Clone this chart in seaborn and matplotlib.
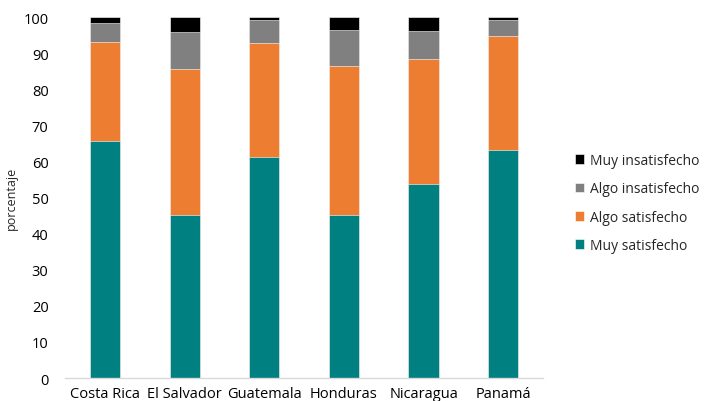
import numpy as np
import pandas as pd
import seaborn as sns
import matplotlib.pyplot as plt

paises = ['Costa Rica', 'El Salvador', 'Guatemala', 'Honduras', 'Nicaragua', 'Panamá']
muy_satisfecho = [65.6, 45.1, 61.3, 45.3, 53.8, 63.2]
algo_satisfecho = [27.5, 40.5, 31.4, 41.1, 34.5, 31.6]
algo_insatisfecho = [5.4, 10.2, 6.5, 9.9, 7.9, 4.4]
muy_insatisfecho = [1.5, 4.2, 0.8, 3.7, 3.8, 0.8]

series = {
    'Muy satisfecho': muy_satisfecho,
    'Algo satisfecho': algo_satisfecho,
    'Algo insatisfecho': algo_insatisfecho,
    'Muy insatisfecho': muy_insatisfecho,
}
colores = {
    'Muy satisfecho': '#008080',
    'Algo satisfecho': '#ED7D31',
    'Algo insatisfecho': '#808080',
    'Muy insatisfecho': '#000000',
}

sns.set_style('white')
plt.rcParams['font.family'] = ['Open Sans', 'DejaVu Sans']

fig = plt.figure(figsize=(7.09, 4.02), dpi=100)
ax = fig.add_axes([0.092, 0.057, 0.674, 0.898])

# stacked bars: draw cumulative totals, tallest first
df = pd.DataFrame(series, index=paises)
acum = df.cumsum(axis=1)
for nombre in reversed(list(series.keys())):
    d = pd.DataFrame({'pais': paises, 'valor': acum[nombre].values})
    sns.barplot(data=d, x='pais', y='valor', color=colores[nombre], width=0.38,
                edgecolor='white', linewidth=0.4, saturation=1, ax=ax, label=nombre)

ax.set_ylim(0, 100)
ax.set_xlim(-0.5, 5.5)
ax.set_yticks(range(0, 101, 10))
ax.set_xlabel('')
ax.set_ylabel('porcentaje', fontsize=9, labelpad=4)
ax.tick_params(axis='both', length=0, labelsize=10.5, colors='#000000')
ax.tick_params(axis='x', pad=6)
ax.tick_params(axis='y', pad=12)
for s in ['top', 'right', 'left']:
    ax.spines[s].set_visible(False)
ax.spines['bottom'].set_color('#d9d9d9')
ax.spines['bottom'].set_linewidth(1)

h, l = ax.get_legend_handles_labels()
ax.legend(h, l, loc='center left', bbox_to_anchor=(1.04, 0.485), frameon=False,
          fontsize=10, handlelength=0.7, handleheight=0.7, handletextpad=0.4,
          labelspacing=0.95)

fig.savefig('out.png', dpi=100)
